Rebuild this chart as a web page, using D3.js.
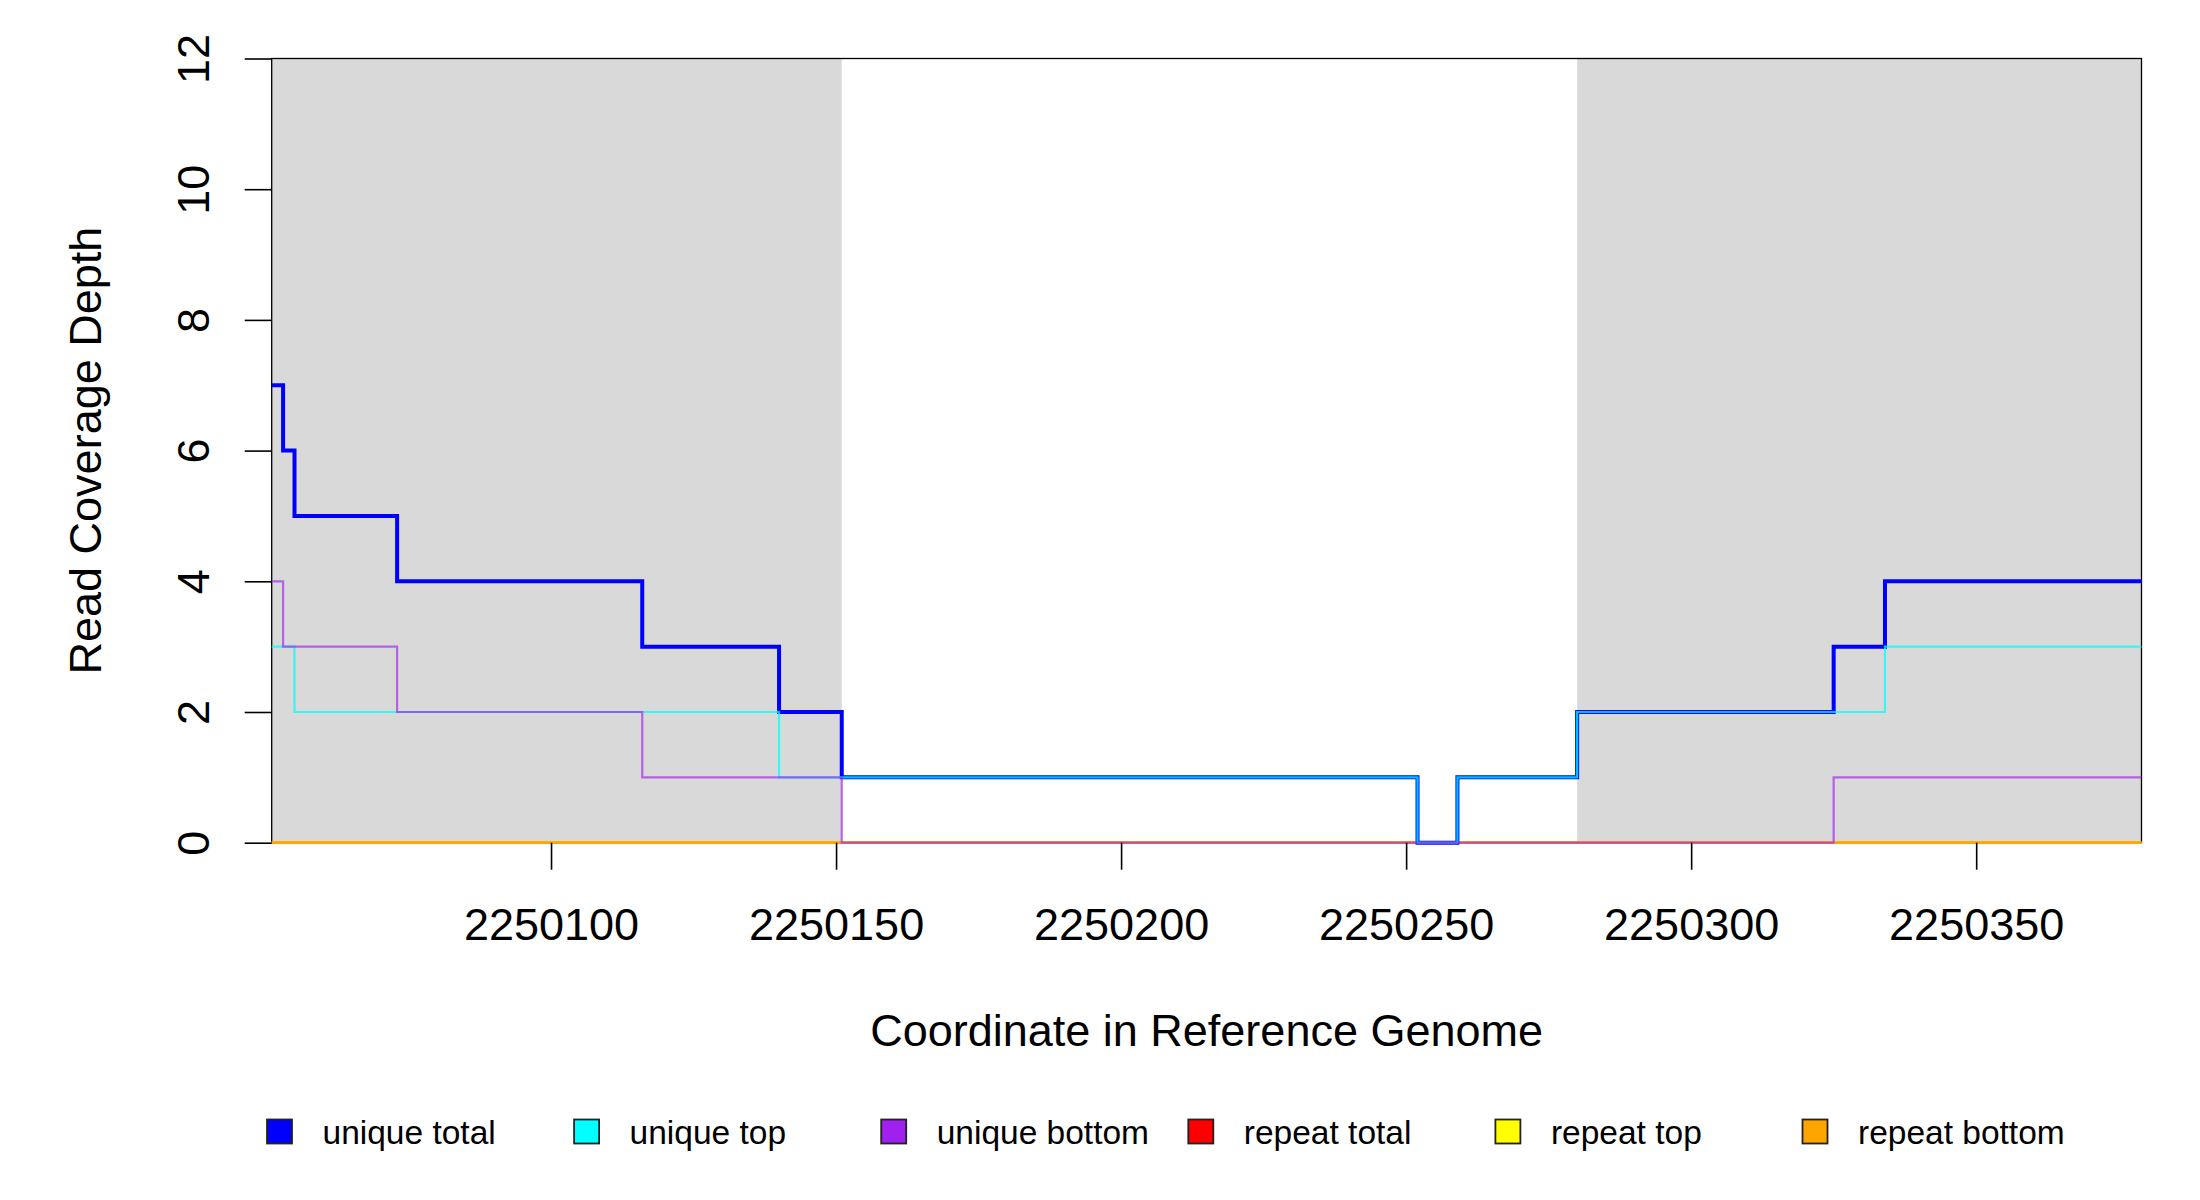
<!DOCTYPE html>
<html>
<head>
<meta charset="utf-8">
<script src="https://cdn.jsdelivr.net/npm/d3@7"></script>
<style>
  html, body { margin: 0; padding: 0; background: #ffffff; }
  svg { display: block; font-family: "Liberation Sans", Arial, sans-serif; }
</style>
</head>
<body>
<svg id="chart" width="2200" height="1200"></svg>
<script>
// ---- data ----
const positions    = [2250051, 2250053, 2250055, 2250073, 2250116, 2250140, 2250151, 2250252, 2250259, 2250280, 2250325, 2250334, 2250379];
const uniqueTotal  = [7, 6, 5, 4, 3, 2, 1, 0, 1, 2, 3, 4, 4];
const uniqueTop    = [3, 3, 2, 2, 2, 1, 1, 0, 1, 2, 2, 3, 3];
const uniqueBottom = [4, 3, 3, 2, 1, 1, 0, 0, 0, 0, 1, 1, 1];
const repeatTotal  = [0, 0, 0, 0, 0, 0, 0, 0, 0, 0, 0, 0, 0];
const repeatTop    = [0, 0, 0, 0, 0, 0, 0, 0, 0, 0, 0, 0, 0];
const repeatBottom = [0, 0, 0, 0, 0, 0, 0, 0, 0, 0, 0, 0, 0];
const shadedRegions = [[2250051, 2250151], [2250280, 2250379]];
const xTicks = [2250100, 2250150, 2250200, 2250250, 2250300, 2250350];
const yTicks = [0, 2, 4, 6, 8, 10, 12];
const legendLabels = ["unique total", "unique top", "unique bottom", "repeat total", "repeat top", "repeat bottom"];
const legendColors = ["#0000FF", "#00FFFF", "#A020F0", "#FF0000", "#FFFF00", "#FFA500"];
const xDomain = [2250051, 2250379];
const yDomain = [0, 12];

// ---- layout ----
const svg = d3.select("#chart");
const L = 271.7, R = 2141.5, T = 58.5, B = 842.7;
const x = d3.scaleLinear().domain(xDomain).range([L, R]);
const y = d3.scaleLinear().domain(yDomain).range([B, T]);
const FS = 45;

// shaded regions
svg.append("g").selectAll("rect").data(shadedRegions).join("rect")
  .attr("x", d => x(d[0])).attr("y", T)
  .attr("width", d => x(d[1]) - x(d[0])).attr("height", B - T)
  .attr("fill", "#D9D9D9");

// plot box
svg.append("rect").attr("x", L).attr("y", T).attr("width", R - L).attr("height", B - T)
  .attr("fill", "none").attr("stroke", "#000").attr("stroke-width", 1.3);

// step lines
const line = d3.line().curve(d3.curveStepAfter).x(d => x(d[0])).y(d => y(d[1]));
const series = [
  { v: repeatTotal,  color: "#FF0000", w: 2.4, o: 1 },
  { v: repeatTop,    color: "#FFFF00", w: 2.4, o: 1 },
  { v: repeatBottom, color: "#FFA500", w: 2.4, o: 1 },
  { v: uniqueTotal,  color: "#0000FF", w: 4,   o: 1 },
  { v: uniqueTop,    color: "#00FFFF", w: 2.2, o: 0.75 },
  { v: uniqueBottom, color: "#A020F0", w: 2.2, o: 0.65 }
];
svg.append("g").selectAll("path").data(series).join("path")
  .attr("d", s => line(positions.map((p, i) => [p, s.v[i]])))
  .attr("fill", "none").attr("stroke", s => s.color)
  .attr("stroke-width", s => s.w).attr("stroke-opacity", s => s.o)
  .attr("stroke-linejoin", "miter").attr("stroke-linecap", "butt");

// x axis
const xAxis = d3.axisBottom(x).tickValues(xTicks).tickFormat(d3.format("d")).tickSize(27).tickPadding(0);
const gx = svg.append("g").attr("transform", `translate(0,${B})`).call(xAxis);
gx.select(".domain").remove();
gx.selectAll(".tick line").attr("stroke", "#000").attr("stroke-width", 1.6);
gx.selectAll(".tick text").attr("y", 97).attr("dy", null)
  .attr("font-size", FS).attr("fill", "#000")
  .attr("font-family", "'Liberation Sans', Arial, sans-serif");

// y axis
const yAxis = d3.axisLeft(y).tickValues(yTicks).tickSize(27).tickPadding(0);
const gy = svg.append("g").attr("transform", `translate(${L},0)`).call(yAxis);
gy.select(".domain").remove();
gy.selectAll(".tick line").attr("stroke", "#000").attr("stroke-width", 1.6);
gy.selectAll(".tick text")
  .attr("x", null).attr("dy", null)
  .attr("text-anchor", "middle")
  .attr("transform", `translate(${209 - L},0) rotate(-90)`)
  .attr("font-size", FS).attr("fill", "#000")
  .attr("font-family", "'Liberation Sans', Arial, sans-serif");

// axis titles
svg.append("text").attr("x", (L + R) / 2).attr("y", 1046)
  .attr("text-anchor", "middle").attr("font-size", FS).attr("fill", "#000")
  .text("Coordinate in Reference Genome");
svg.append("text")
  .attr("transform", `translate(101,${(T + B) / 2}) rotate(-90)`)
  .attr("text-anchor", "middle").attr("font-size", FS).attr("fill", "#000")
  .text("Read Coverage Depth");

// legend
const legend = svg.append("g").selectAll("g").data(legendLabels).join("g")
  .attr("transform", (d, i) => `translate(${267 + i * 307.1},1131.5)`);
legend.append("rect").attr("x", 0).attr("y", -12).attr("width", 25).attr("height", 24)
  .attr("fill", (d, i) => legendColors[i]).attr("stroke", "#222").attr("stroke-width", 1.8);
legend.append("text").attr("x", 55.5).attr("y", 12)
  .attr("font-size", 33.5).attr("fill", "#000").text(d => d);
</script>
</body>
</html>
